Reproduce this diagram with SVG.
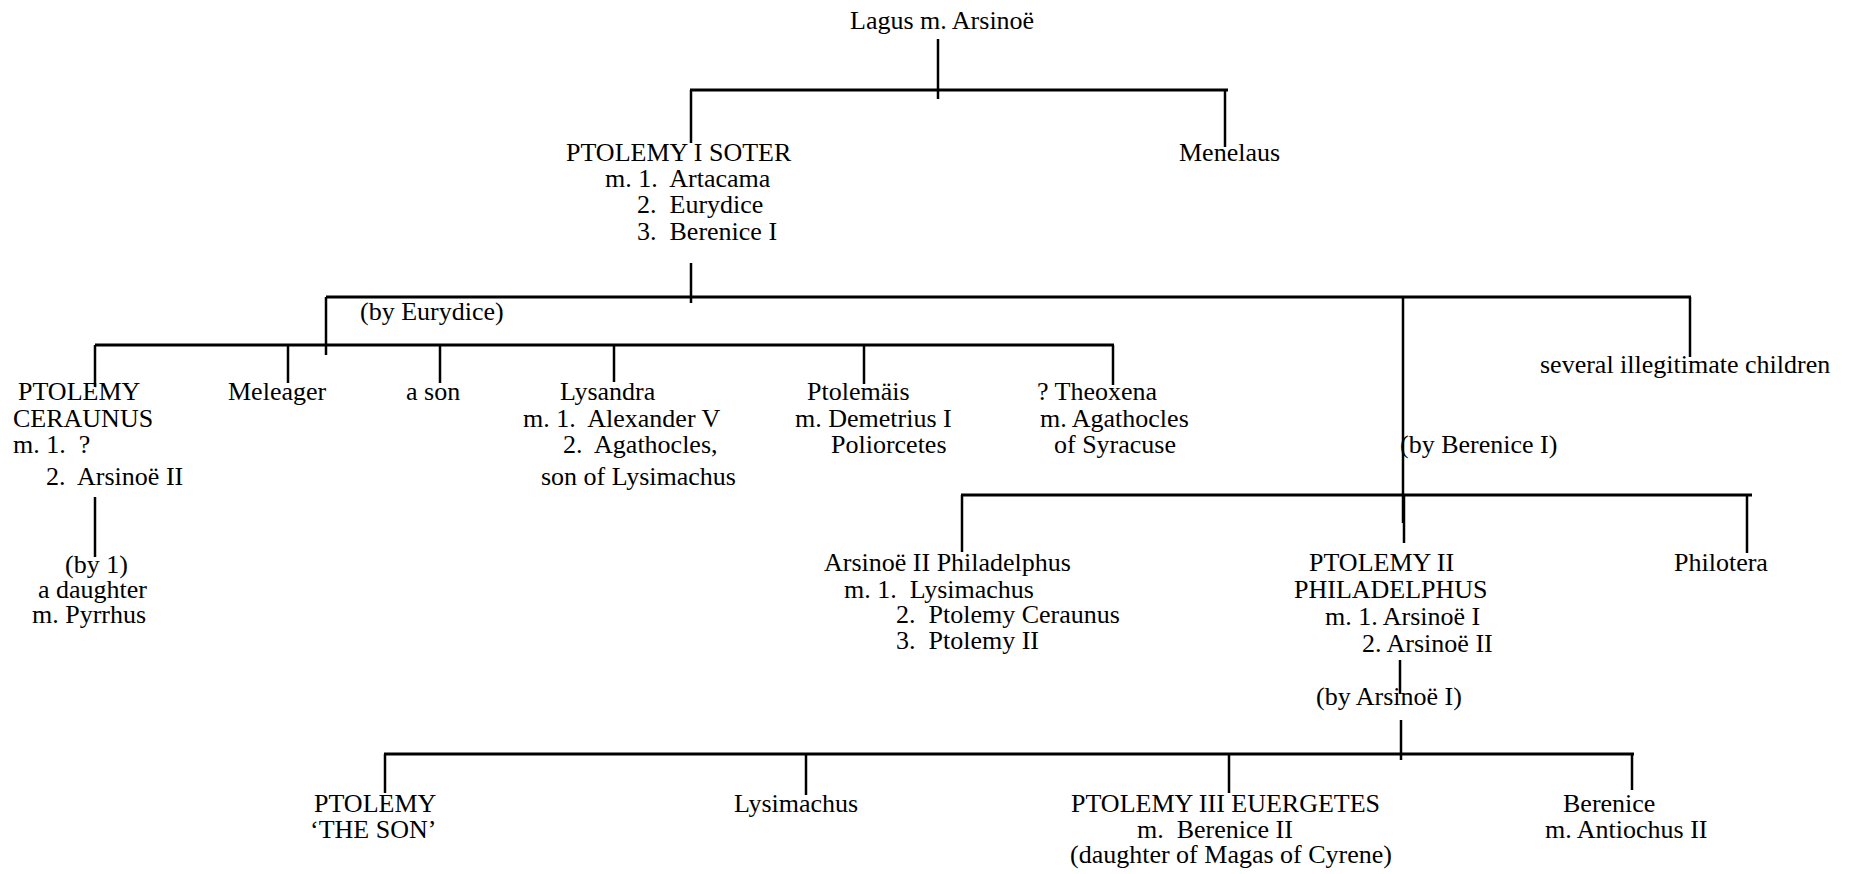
<svg xmlns="http://www.w3.org/2000/svg" width="1854" height="874" viewBox="0 0 1854 874" xml:space="preserve">
<style>
text{font-family:"Liberation Serif","Times New Roman",serif;font-size:26px;fill:#000;white-space:pre}
.h{stroke:#000;stroke-width:3;fill:none}
.v{stroke:#000;stroke-width:2.5;fill:none}
</style>
<rect width="1854" height="874" fill="#fff"/>
<g id="connectors">
<line class="v" x1="938" y1="39" x2="938" y2="99"/>
<line class="h" x1="690" y1="90" x2="1228" y2="90"/>
<line class="v" x1="691" y1="90" x2="691" y2="143"/>
<line class="v" x1="1225" y1="90" x2="1225" y2="147"/>
<line class="v" x1="691" y1="263" x2="691" y2="303"/>
<line class="h" x1="326" y1="297" x2="1691" y2="297"/>
<line class="v" x1="326" y1="297" x2="326" y2="355"/>
<line class="h" x1="95" y1="345" x2="1114" y2="345"/>
<line class="v" x1="95" y1="345" x2="95" y2="387"/>
<line class="v" x1="288" y1="345" x2="288" y2="383"/>
<line class="v" x1="440" y1="345" x2="440" y2="383"/>
<line class="v" x1="614" y1="345" x2="614" y2="382"/>
<line class="v" x1="864" y1="345" x2="864" y2="384"/>
<line class="v" x1="1113" y1="345" x2="1113" y2="385"/>
<line class="v" x1="1690" y1="297" x2="1690" y2="357"/>
<line class="v" x1="1403" y1="297" x2="1403" y2="523"/>
<line class="h" x1="961" y1="495" x2="1752" y2="495"/>
<line class="v" x1="962" y1="495" x2="962" y2="552"/>
<line class="v" x1="1404" y1="495" x2="1404" y2="543"/>
<line class="v" x1="1747" y1="495" x2="1747" y2="553"/>
<line class="v" x1="95" y1="497" x2="95" y2="557"/>
<line class="v" x1="1400" y1="660" x2="1400" y2="694"/>
<line class="v" x1="1401" y1="720" x2="1401" y2="760"/>
<line class="h" x1="384" y1="754" x2="1634" y2="754"/>
<line class="v" x1="385" y1="754" x2="385" y2="793"/>
<line class="v" x1="806" y1="754" x2="806" y2="795"/>
<line class="v" x1="1229" y1="754" x2="1229" y2="793"/>
<line class="v" x1="1632" y1="754" x2="1632" y2="790"/>
</g>
<g id="lagus"><text x="850" y="29">Lagus m. Arsinoë</text></g>
<g id="ptolemy1">
<text x="566" y="161">PTOLEMY I SOTER</text>
<text x="605" y="187">m. 1.  Artacama</text>
<text x="637" y="213">2.  Eurydice</text>
<text x="637" y="240">3.  Berenice I</text>
</g>
<g id="menelaus"><text x="1179" y="161">Menelaus</text></g>
<g id="by-eurydice"><text x="360" y="320">(by Eurydice)</text></g>
<g id="ceraunus">
<text x="18" y="400">PTOLEMY</text>
<text x="13" y="427">CERAUNUS</text>
<text x="13" y="453">m. 1.  ?</text>
<text x="46" y="485">2.  Arsinoë II</text>
</g>
<g id="daughter">
<text x="65" y="573">(by 1)</text>
<text x="38" y="598">a daughter</text>
<text x="32" y="623">m. Pyrrhus</text>
</g>
<g id="meleager"><text x="228" y="400">Meleager</text></g>
<g id="ason"><text x="406" y="400">a son</text></g>
<g id="lysandra">
<text x="560" y="400">Lysandra</text>
<text x="523" y="427">m. 1.  Alexander V</text>
<text x="563" y="453">2.  Agathocles,</text>
<text x="541" y="485">son of Lysimachus</text>
</g>
<g id="ptolemais">
<text x="807" y="400">Ptolemäis</text>
<text x="795" y="427">m. Demetrius I</text>
<text x="831" y="453">Poliorcetes</text>
</g>
<g id="theoxena">
<text x="1037" y="400">? Theoxena</text>
<text x="1040" y="427">m. Agathocles</text>
<text x="1054" y="453">of Syracuse</text>
</g>
<g id="illegitimate"><text x="1540" y="373">several illegitimate children</text></g>
<g id="by-berenice"><text x="1400" y="453">(by Berenice I)</text></g>
<g id="arsinoe2">
<text x="824" y="571">Arsinoë II Philadelphus</text>
<text x="844" y="598">m. 1.  Lysimachus</text>
<text x="896" y="623">2.  Ptolemy Ceraunus</text>
<text x="896" y="649">3.  Ptolemy II</text>
</g>
<g id="ptolemy2">
<text x="1309" y="571">PTOLEMY II</text>
<text x="1294" y="598">PHILADELPHUS</text>
<text x="1325" y="625">m. 1. Arsinoë I</text>
<text x="1362" y="652">2. Arsinoë II</text>
</g>
<g id="philotera"><text x="1674" y="571">Philotera</text></g>
<g id="by-arsinoe1"><text x="1316" y="705">(by Arsinoë I)</text></g>
<g id="theson">
<text x="314" y="812">PTOLEMY</text>
<text x="310" y="838">‘THE SON’</text>
</g>
<g id="lysimachus"><text x="734" y="812">Lysimachus</text></g>
<g id="ptolemy3">
<text x="1071" y="812">PTOLEMY III EUERGETES</text>
<text x="1137" y="838">m.  Berenice II</text>
<text x="1070" y="863">(daughter of Magas of Cyrene)</text>
</g>
<g id="berenice">
<text x="1563" y="812">Berenice</text>
<text x="1545" y="838">m. Antiochus II</text>
</g>
</svg>
